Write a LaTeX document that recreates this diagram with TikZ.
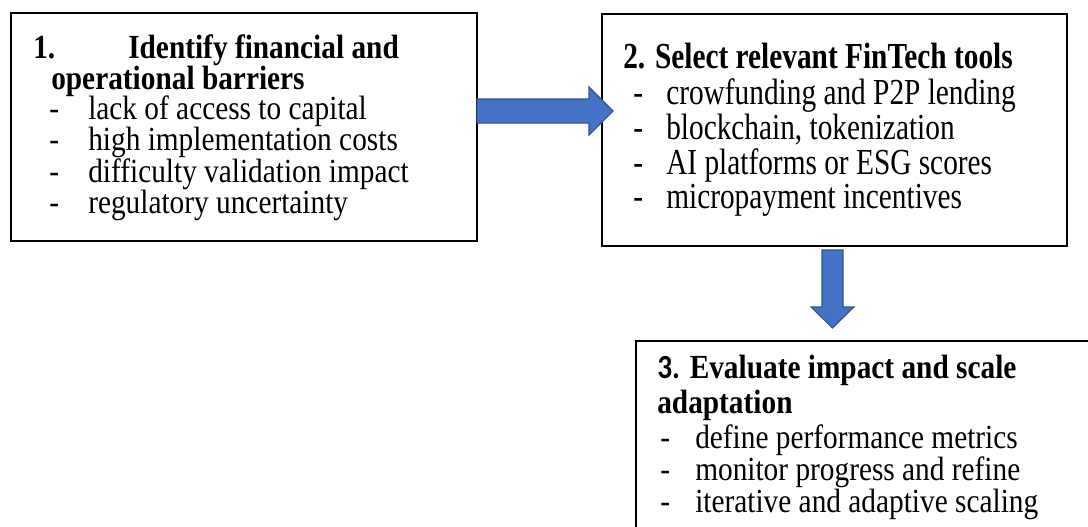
\documentclass[tikz,border=0pt]{standalone}
\usepackage{fontspec}
\setmainfont{Liberation Serif}
\newfontfamily\carlitofont{Carlito}
\usetikzlibrary{calc}
\definecolor{arrowblue}{HTML}{4472C4}
\definecolor{arrowedge}{HTML}{2F528F}
\tikzset{
  boxst/.style={draw=black, line width=1.1pt, anchor=north west, inner sep=0pt, outer sep=0pt},
  txt/.style={anchor=base west, inner sep=0pt, font=\fontsize{22}{26}\selectfont},
  hd/.style={anchor=base west, inner sep=0pt, font=\fontsize{22}{26}\selectfont\bfseries},
  blockarrow/.style={fill=arrowblue, draw=arrowedge, line width=0.8pt, line join=miter},
}
\newcommand{\tallA}[1]{\scalebox{1}[1.15]{#1}}
\newcommand{\tallB}[1]{\scalebox{1}[1.25]{#1}}
\begin{document}
\begin{tikzpicture}[x=0.75pt,y=-0.75pt]
\clip (0,0) rectangle (1088,526);
\fill[white] (0,0) rectangle (1088,526);
% boxes
\node (b1) [boxst, minimum width=349.5pt, minimum height=171pt] at (11,13) {};
\node (b2) [boxst, minimum width=348.75pt, minimum height=174pt] at (602,14) {};
\node (b3) [boxst, minimum width=348pt, minimum height=153pt] at (636,341) {};
% box 1 text
\node (h1a) [hd] at (33,58) {\tallA{1.}};
\node (h1b) [hd] at (128,58) {\tallA{Identify financial and}};
\node (h1c) [hd] at (51,89) {\tallA{operational barriers}};
\node (d1a) [txt] at (49,119) {\tallA{-}};
\node (i1a) [txt] at (88,119) {\tallA{lack of access to capital}};
\node (d1b) [txt] at (49,150) {\tallA{-}};
\node (i1b) [txt] at (88,150) {\tallA{high implementation costs}};
\node (d1c) [txt] at (49,182) {\tallA{-}};
\node (i1c) [txt] at (88,182) {\tallA{difficulty validation impact}};
\node (d1d) [txt] at (49,213) {\tallA{-}};
\node (i1d) [txt] at (88,213) {\tallA{regulatory uncertainty}};
% box 2 text
\node (h2a) [hd] at (623,68) {\tallB{2. Select relevant FinTech tools}};
\node (d2a) [txt] at (633,104) {\tallB{-}};
\node (i2a) [txt] at (666,104) {\tallB{crowfunding and P2P lending}};
\node (d2b) [txt] at (633,139) {\tallB{-}};
\node (i2b) [txt] at (666,139) {\tallB{blockchain, tokenization}};
\node (d2c) [txt] at (633,174) {\tallB{-}};
\node (i2c) [txt] at (666,174) {\tallB{AI platforms or ESG scores}};
\node (d2d) [txt] at (633,208) {\tallB{-}};
\node (i2d) [txt] at (666,208) {\tallB{micropayment incentives}};
% box 3 text
\node (h3a) [hd] at (657,378) {\tallA{{\carlitofont\bfseries 3.} Evaluate impact and scale}};
\node (h3b) [hd] at (657,413) {\tallA{adaptation}};
\node (d3a) [txt] at (660,448) {\tallA{-}};
\node (i3a) [txt] at (695,448) {\tallA{define performance metrics}};
\node (d3b) [txt] at (660,480) {\tallA{-}};
\node (i3b) [txt] at (695,480) {\tallA{monitor progress and refine}};
\node (d3c) [txt] at (660,512) {\tallA{-}};
\node (i3c) [txt] at (695,512) {\tallA{iterative and adaptive scaling}};
% arrows
\path[blockarrow] (b1.east |- 0,99) -- (589,99) -- (589,87) -- (613,111)
  -- (589,135) -- (589,123) -- (b1.east |- 0,123) -- cycle;
\path[blockarrow] (822,250) -- (843,250) -- (843,307) -- (854,307)
  -- (832.5,328) -- (811,307) -- (822,307) -- cycle;
\end{tikzpicture}
\end{document}
